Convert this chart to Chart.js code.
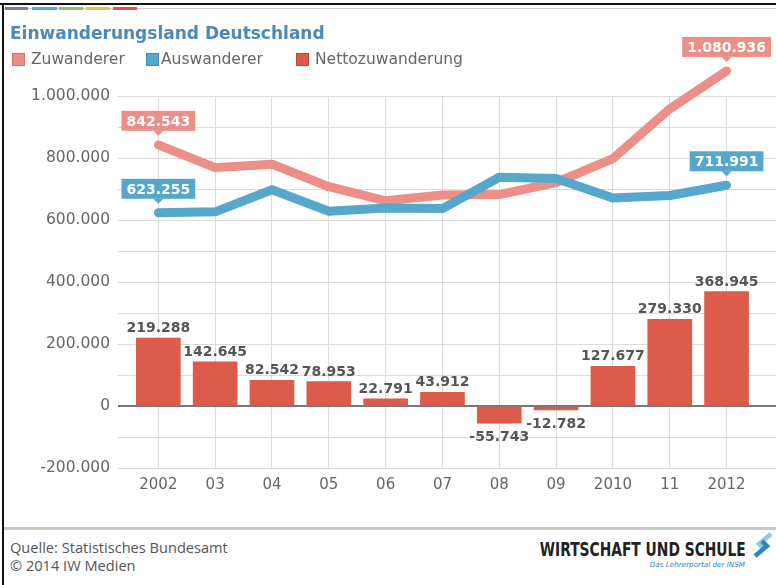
<!DOCTYPE html>
<html lang="de">
<head>
<meta charset="utf-8">
<title>Einwanderungsland Deutschland</title>
<script src="https://cdn.jsdelivr.net/npm/chart.js@4.4.1/dist/chart.umd.min.js"></script>
<style>
  html, body { margin: 0; padding: 0; background: #fff; }
  #rahmen {
    position: relative; width: 776px; height: 585px; overflow: hidden; background: #fff;
    font-family: "DejaVu Sans", Verdana, sans-serif;
  }
  #rahmen canvas { position: absolute; left: 0; top: 0; }
  .kante-oben { position: absolute; left: 0; top: 3px; width: 776px; height: 2px; background: #111; }
  .kante-links { position: absolute; left: 2px; top: 3px; width: 2px; height: 582px; background: #111; }
  .reiter-linie { position: absolute; left: 4px; top: 8px; width: 772px; height: 1px; background: #ccc; }
  .reiter { position: absolute; top: 7px; height: 3px; }
  #titel {
    position: absolute; left: 10px; top: 22px; line-height: 22px;
    font-weight: bold; font-size: 17px; color: #4b8ab4; white-space: nowrap;
  }
  .leg-box { position: absolute; top: 53px; width: 11px; height: 11px; border: 1px solid; }
  .leg-text { position: absolute; top: 49px; line-height: 20px; font-size: 15.5px; color: #666; white-space: nowrap; }
  .fuss-linie { position: absolute; left: 4px; top: 527px; width: 772px; height: 3px; background: #c9c9c9; }
  .fuss-text {
    position: absolute; left: 10px; font-family: "Open Sans", sans-serif; font-size: 14.6px;
    color: #555; line-height: 18px; white-space: nowrap;
  }
  #logo {
    position: absolute; right: 30px; top: 538px; line-height: 22px; white-space: nowrap;
    font-family: "DejaVu Sans Condensed", "DejaVu Sans", sans-serif; font-weight: bold; font-size: 19px;
    color: #222; transform-origin: right center;
  }
  #logo-zeile {
    position: absolute; right: 31px; top: 559px; line-height: 12px; white-space: nowrap;
    font-family: "DejaVu Sans", sans-serif; font-style: italic; font-size: 7.2px; color: #2f86bd;
  }
  #pfeil { position: absolute; left: 751px; top: 532px; }
</style>
</head>
<body>
<div id="rahmen">
  <canvas id="grafik" width="776" height="520"></canvas>

  <div class="kante-oben"></div>
  <div class="kante-links"></div>
  <div class="reiter-linie"></div>
  <div class="reiter" style="left:5px;width:23px;background:#8b72b2"></div>
  <div class="reiter" style="left:32px;width:25px;background:#5aa8d0"></div>
  <div class="reiter" style="left:59px;width:24px;background:#8cc06c"></div>
  <div class="reiter" style="left:86px;width:24px;background:#e9c22f"></div>
  <div class="reiter" style="left:113px;width:24px;background:#dd5544"></div>

  <div id="titel">Einwanderungsland Deutschland</div>

  <div class="leg-box" style="left:12px;background:#ec8f86;border-color:#cf776f"></div>
  <div class="leg-text" style="left:31px">Zuwanderer</div>
  <div class="leg-box" style="left:146px;background:#55a7cc;border-color:#3f8fb3"></div>
  <div class="leg-text" style="left:161px">Auswanderer</div>
  <div class="leg-box" style="left:296px;background:#dc5b4a;border-color:#bf4636"></div>
  <div class="leg-text" style="left:315px">Nettozuwanderung</div>

  <div class="fuss-linie"></div>
  <div class="fuss-text" style="top:538px">Quelle: Statistisches Bundesamt</div>
  <div class="fuss-text" style="top:556px">© 2014 IW Medien</div>
  <div id="logo">WIRTSCHAFT UND SCHULE</div>
  <div id="logo-zeile">Das Lehrerportal der INSM</div>
  <svg id="pfeil" width="24" height="26" viewBox="0 0 24 26">
    <polyline points="20,2 8,12 13,17" fill="none" stroke="#8ccbeb" stroke-width="4.5"/>
    <polyline points="11,9 16,14 4,24" fill="none" stroke="#2f86bd" stroke-width="4.5"/>
  </svg>
</div>

<script>
// Wanderungen über die Grenzen Deutschlands, 2002 bis 2012
const jahre = ["2002", "03", "04", "05", "06", "07", "08", "09", "2010", "11", "2012"];
const zuwanderer = [842543, 768975, 780175, 707352, 661855, 680766, 682146, 721014, 798282, 958299, 1080936];
const auswanderer = [623255, 626330, 697633, 628399, 639064, 636854, 737889, 733796, 670605, 678969, 711991];
const netto = [219288, 142645, 82542, 78953, 22791, 43912, -55743, -12782, 127677, 279330, 368945];
const yBeschriftung = [-200000, 0, 200000, 400000, 600000, 800000, 1000000];

const FARBE_ZU = "#ec8f86";
const FARBE_AUS = "#55a7cc";
const FARBE_NETTO = "#dc5b4a";
const SCHRIFT = '"DejaVu Sans", Verdana, sans-serif';

function formatZahl(v) {
    const s = String(Math.abs(v)).replace(/\B(?=(\d{3})+(?!\d))/g, ".");
    return (v < 0 ? "-" : "") + s;
}

// Logo-Schriftzug auf feste Breite bringen
const logo = document.getElementById("logo");
logo.style.transform = "scaleX(" + (206 / logo.getBoundingClientRect().width) + ")";

// Zahlen an Balken sowie Kästchen am Anfang und Ende der Linien
const wertLabels = {
    id: "wertLabels",
    afterDatasetsDraw(chart) {
        const ctx = chart.ctx;
        ctx.save();
        ctx.font = "bold 14px " + SCHRIFT;
        ctx.textAlign = "center";
        ctx.textBaseline = "alphabetic";

        const balken = chart.getDatasetMeta(2);
        balken.data.forEach((bar, i) => {
            const v = netto[i];
            ctx.fillStyle = "#555";
            if (v >= 0) {
                ctx.fillText(formatZahl(v), bar.x, bar.y - 6);
            } else {
                ctx.fillText(formatZahl(v), bar.x, bar.y + 18);
            }
        });

        [0, 1].forEach(di => {
            const meta = chart.getDatasetMeta(di);
            const ds = chart.data.datasets[di];
            [0, meta.data.length - 1].forEach(i => {
                const pt = meta.data[i];
                const text = formatZahl(ds.data[i].y);
                const w = ctx.measureText(text).width + 10;
                const h = 20;
                const unten = pt.y - 14;

                ctx.fillStyle = ds.borderColor;
                ctx.fillRect(pt.x - w / 2, unten - h, w, h);
                ctx.beginPath();
                ctx.moveTo(pt.x - 5, unten);
                ctx.lineTo(pt.x + 5, unten);
                ctx.lineTo(pt.x, unten + 5);
                ctx.closePath();
                ctx.fill();

                ctx.fillStyle = "#fff";
                ctx.fillText(text, pt.x, unten - 5);
            });
        });
        ctx.restore();
    }
};

const punkte = werte => werte.map((v, i) => ({ x: i, y: v }));

new Chart(document.getElementById("grafik"), {
    type: "bar",
    data: {
        datasets: [
            {
                type: "line",
                label: "Zuwanderer",
                data: punkte(zuwanderer),
                borderColor: FARBE_ZU,
                borderWidth: 9,
                borderJoinStyle: "round",
                borderCapStyle: "round",
                pointRadius: 0,
                tension: 0,
                clip: false,
                order: 1
            },
            {
                type: "line",
                label: "Auswanderer",
                data: punkte(auswanderer),
                borderColor: FARBE_AUS,
                borderWidth: 9,
                borderJoinStyle: "round",
                borderCapStyle: "round",
                pointRadius: 0,
                tension: 0,
                clip: false,
                order: 0
            },
            {
                label: "Nettozuwanderung",
                data: punkte(netto),
                backgroundColor: FARBE_NETTO,
                barThickness: 44,
                order: 2
            }
        ]
    },
    plugins: [wertLabels],
    options: {
        responsive: false,
        animation: false,
        layout: {
            padding: { top: 96, bottom: 22, left: 0, right: 0 }
        },
        plugins: {
            legend: { display: false },
            title: { display: false },
            tooltip: { enabled: false }
        },
        scales: {
            x: {
                type: "linear",
                offset: false,
                min: -0.71,
                max: 10.87,
                afterBuildTicks: scale => {
                    scale.ticks = jahre.map((_, i) => ({ value: i }));
                },
                afterFit: scale => { scale.height = 30; },
                grid: { color: "#dcdcdc", lineWidth: 1, drawTicks: false, offset: false },
                border: { display: false },
                ticks: {
                    padding: 8,
                    autoSkip: false,
                    maxRotation: 0,
                    color: "#666",
                    font: { family: SCHRIFT, size: 15 },
                    callback: value => jahre[value]
                }
            },
            y: {
                min: -200000,
                max: 1000000,
                afterFit: scale => { scale.width = 118; },
                grid: {
                    color: c => c.tick.value === 0 ? "#777" : "#dcdcdc",
                    lineWidth: c => c.tick.value === 0 ? 2 : 1,
                    drawTicks: false
                },
                border: { display: false },
                ticks: {
                    stepSize: 100000,
                    padding: 8,
                    color: "#666",
                    font: { family: SCHRIFT, size: 15.5 },
                    callback: value => yBeschriftung.includes(value) ? formatZahl(value) : ""
                }
            }
        }
    }
});
</script>
</body>
</html>
